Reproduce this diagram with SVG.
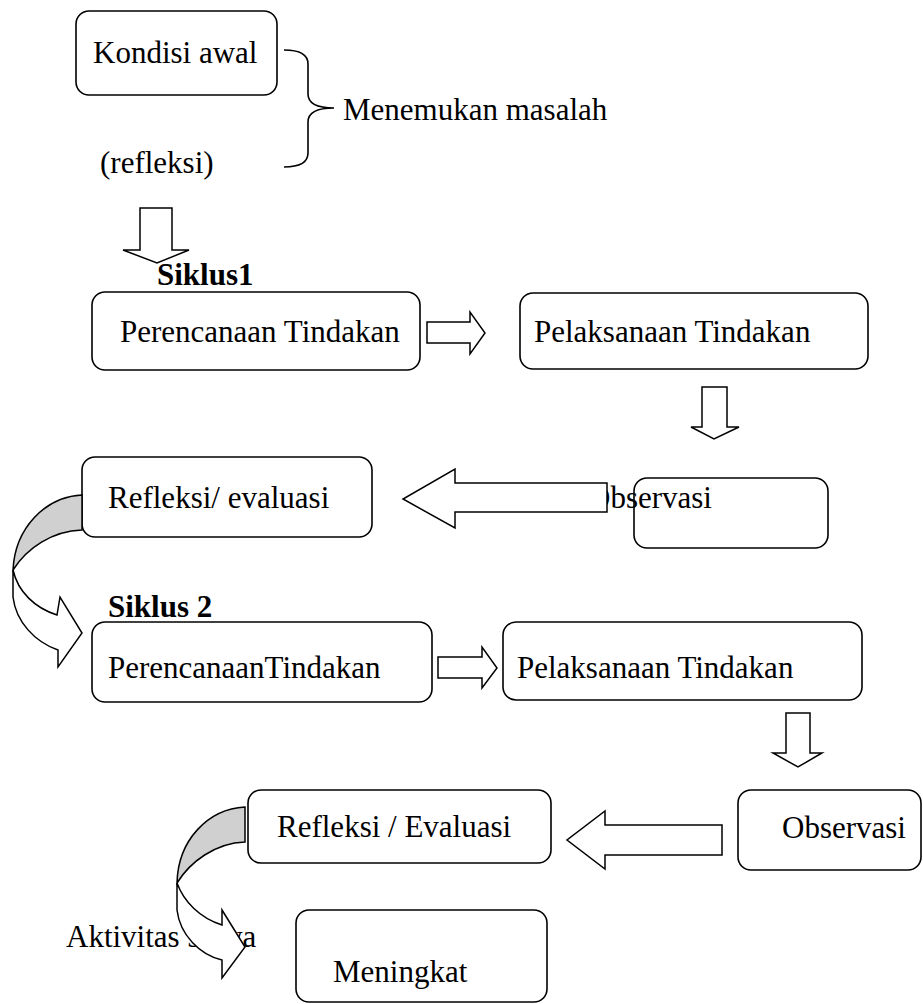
<svg xmlns="http://www.w3.org/2000/svg" width="923" height="1004" viewBox="0 0 923 1004">
<style>
.box{fill:#fff;stroke:#000;stroke-width:1.6}
.t{font-family:"Liberation Serif","Times New Roman",serif;font-size:31px;fill:#000}
.b{font-weight:bold}
.arr{fill:#fff;stroke:#000;stroke-width:1.5;stroke-linejoin:miter}
.gray{fill:#d0d0d0;stroke:#000;stroke-width:1.5}
.line{fill:none;stroke:#000;stroke-width:1.6}
</style>
<rect width="923" height="1004" fill="#fff"/>
<g id="kondisi">
<rect class="box" x="76" y="11" width="201" height="84" rx="13"/>
<text class="t" x="93" y="63">Kondisi awal</text>
</g>
<g id="refleksi0"><text class="t" x="100" y="173">(refleksi)</text></g>
<g id="brace">
<path class="line" d="M284,50 Q308,50 308,64 L308,94 Q308,108 334,108 Q308,108 308,122 L308,153 Q308,167 284,167"/>
<text class="t" x="343" y="120">Menemukan masalah</text>
</g>
<g id="siklus1"><text class="t b" x="157" y="285">Siklus1</text></g>
<g id="siklus2"><text class="t b" x="108" y="617">Siklus 2</text></g>
<g id="perencanaan1">
<rect class="box" x="92" y="292" width="328" height="78" rx="13"/>
<text class="t" x="120" y="342">Perencanaan Tindakan</text>
</g>
<g id="pelaksanaan1">
<rect class="box" x="520" y="293" width="348" height="76" rx="13"/>
<text class="t" x="534" y="342">Pelaksanaan Tindakan</text>
</g>
<g id="refleksi1">
<rect class="box" x="82" y="457" width="290" height="80" rx="13"/>
<text class="t" x="108" y="508">Refleksi/ evaluasi</text>
</g>
<g id="observasi1">
<rect class="box" x="634" y="478" width="194" height="70" rx="13"/>
<text class="t" x="588" y="508">Observasi</text>
</g>
<g id="perencanaan2">
<rect class="box" x="92" y="622" width="340" height="80" rx="13"/>
<text class="t" x="108" y="678">PerencanaanTindakan</text>
</g>
<g id="pelaksanaan2">
<rect class="box" x="503" y="622" width="359" height="78" rx="13"/>
<text class="t" x="517" y="678">Pelaksanaan Tindakan</text>
</g>
<g id="refleksi2">
<rect class="box" x="248" y="790" width="303" height="73" rx="13"/>
<text class="t" x="277" y="837">Refleksi / Evaluasi</text>
</g>
<g id="observasi2">
<rect class="box" x="738" y="790" width="183" height="80" rx="13"/>
<text class="t" x="782" y="838">Observasi</text>
</g>
<g id="aktivitas"><text class="t" x="66" y="947">Aktivitas siswa</text></g>
<g id="meningkat">
<rect class="box" x="296" y="910" width="251" height="92" rx="13"/>
<text class="t" x="333" y="982">Meningkat</text>
</g>
<g id="connectors">
<path class="arr" d="M140,208 L172,208 L172,250 L189,250 L157,263 L123,250 L140,250 Z"/>
<path class="arr" d="M427,322 L470,322 L470,312 L485,333 L470,354 L470,343 L427,343 Z"/>
<path class="arr" d="M702,387 L727,387 L727,427 L739,427 L714,439 L691,427 L702,427 Z"/>
<path class="arr" d="M607,483 L607,512 L455,512 L455,528 L403,499 L455,469 L455,483 Z"/>
<path class="arr" d="M438,657 L482,657 L482,647 L497,668 L482,688 L482,678 L438,678 Z"/>
<path class="arr" d="M786,713 L810,713 L810,753 L822,753 L798,767 L773,753 L786,753 Z"/>
<path class="arr" d="M722,825 L722,855 L605,855 L605,869 L567,840 L605,811 L605,825 Z"/>
<path class="gray" d="M82,495 C45,497 15,528 13,570 C27,548 52,531 82,530 Z"/>
<path class="arr" d="M13,570 L13,597 C16,622 35,642 58,650 L58,667 L82,633 L60,597 L57,615 C35,608 18,592 13,570 Z"/>
<path class="gray" d="M245,807 C208,809 178,840 177,883 C190,862 215,843 245,842 Z"/>
<path class="arr" d="M177,883 L177,910 C180,935 200,955 222,960 L222,978 L245,947 L222,910 L222,925 C200,918 184,902 177,883 Z"/>
</g>
</svg>
